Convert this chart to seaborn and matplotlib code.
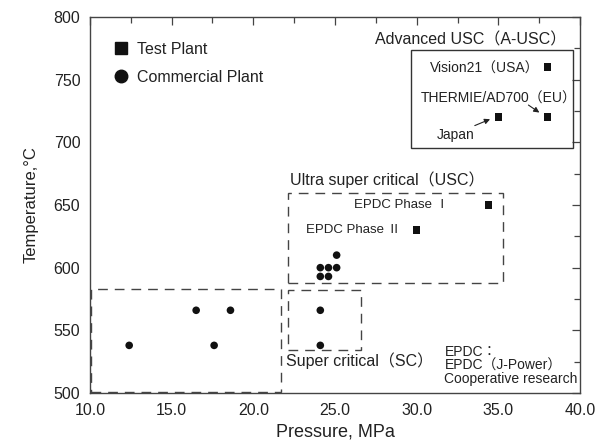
import matplotlib
matplotlib.use("Agg")
import matplotlib.pyplot as plt
import seaborn as sns
import pandas as pd
from matplotlib.patches import Rectangle
from matplotlib.lines import Line2D
from matplotlib.ticker import MultipleLocator, FormatStrFormatter

# ---- data ----
commercial_p = [12.4, 16.5, 17.6, 18.6, 24.1, 24.1, 24.1, 24.6, 24.1, 24.6, 25.1, 25.1]
commercial_t = [538, 566, 538, 566, 566, 538, 593, 593, 600, 600, 600, 610]
test_p = [34.4, 30.0, 38.0, 35.0, 38.0]
test_t = [650, 630, 760, 720, 720]
test_names = ["EPDC Phase Ⅰ", "EPDC Phase Ⅱ", "Vision21（USA）", "Japan", "THERMIE/AD700（EU）"]

# region boxes: (p_min, t_min, p_max, t_max)
box_subcritical = [10.05, 500.5, 21.7, 582.7]
box_sc = [22.1, 534, 26.6, 582]
box_usc = [22.15, 587.5, 35.3, 659.4]
box_ausc = [29.65, 695.3, 39.55, 773.7]

df = pd.DataFrame({
    "Pressure": commercial_p + test_p,
    "Temperature": commercial_t + test_t,
    "Type": ["Commercial Plant"] * len(commercial_p) + ["Test Plant"] * len(test_p),
})

sns.set_theme(style="white")
plt.rcParams["font.family"] = ["Liberation Sans", "Noto Sans CJK JP", "DejaVu Sans"]
txt = "#222222"

fig = plt.figure(figsize=(6.08, 4.47), dpi=100)
ax = fig.add_axes([0.148, 0.1208, 0.806, 0.8412])

sns.scatterplot(data=df, x="Pressure", y="Temperature", style="Type",
                markers={"Test Plant": "s", "Commercial Plant": "o"},
                color="#111111", s=30, edgecolor="none", ax=ax, legend=False, zorder=3)

ax.set_xlim(10, 40)
ax.set_ylim(500, 800)
ax.xaxis.set_major_locator(MultipleLocator(5))
ax.xaxis.set_minor_locator(MultipleLocator(2.5))
ax.yaxis.set_major_locator(MultipleLocator(50))
ax.yaxis.set_minor_locator(MultipleLocator(25))
ax.xaxis.set_major_formatter(FormatStrFormatter("%.1f"))
ax.yaxis.set_major_formatter(FormatStrFormatter("%d"))
ax.tick_params(which="both", direction="in", top=True, right=True, colors="#444444",
               labelcolor=txt, labelsize=11.5)
ax.tick_params(which="major", length=6, width=0.9, pad=7)
ax.tick_params(which="minor", length=4, width=0.9)
for sp in ax.spines.values():
    sp.set_color("#444444")
    sp.set_linewidth(1.0)

ax.set_xlabel("Pressure, MPa", fontsize=13, color=txt, labelpad=4)
ax.set_ylabel("Temperature,°C", fontsize=12, color=txt, labelpad=11)

dash = (0, (7, 5))
for b in [box_subcritical, box_sc, box_usc]:
    ax.add_patch(Rectangle((b[0], b[1]), b[2] - b[0], b[3] - b[1], fill=False,
                           edgecolor="#444444", linewidth=1.0, linestyle=dash, zorder=2))
b = box_ausc
ax.add_patch(Rectangle((b[0], b[1]), b[2] - b[0], b[3] - b[1], fill=False,
                       edgecolor="#333333", linewidth=1.0, zorder=2))

# region labels
ax.text(22.25, 670, "Ultra super critical（USC）", fontsize=11.5, color=txt, ha="left", va="center")
ax.text(27.45, 782, "Advanced USC（A-USC）", fontsize=11.5, color=txt, ha="left", va="center")
ax.text(21.98, 526, "Super critical（SC）", fontsize=11.5, color=txt, ha="left", va="center")

# point labels
ax.text(31.95, 650, test_names[0], fontsize=9.5, color=txt, ha="right", va="center")
ax.text(23.2, 630, test_names[1], fontsize=9.5, color=txt, ha="left", va="center")
ax.text(37.5, 759, test_names[2], fontsize=10, color=txt, ha="right", va="center")
ax.text(30.25, 735, test_names[4], fontsize=10, color=txt, ha="left", va="center")
ax.text(31.2, 706, test_names[3], fontsize=10, color=txt, ha="left", va="center")
ax.annotate("", xy=(34.65, 719.3), xytext=(33.4, 712.5),
            arrowprops=dict(arrowstyle="-|>", lw=0.8, color="#222222", mutation_scale=8))
ax.annotate("", xy=(37.65, 722.5), xytext=(36.7, 731),
            arrowprops=dict(arrowstyle="-|>", lw=0.8, color="#222222", mutation_scale=8))

ax.text(31.7, 522, "EPDC：\nEPDC（J-Power）\nCooperative research", fontsize=10, color=txt,
        ha="left", va="center", linespacing=0.95)

handles = [Line2D([], [], marker="s", color="#111111", linestyle="none", markersize=9),
           Line2D([], [], marker="o", color="#111111", linestyle="none", markersize=9)]
ax.legend(handles, ["Test Plant", "Commercial Plant"], loc="upper left",
          bbox_to_anchor=(0.017, 0.973), frameon=False, fontsize=11.5,
          handlelength=1.0, handletextpad=0.5, labelspacing=0.85, labelcolor=txt)

fig.savefig("out.png", dpi=100)
